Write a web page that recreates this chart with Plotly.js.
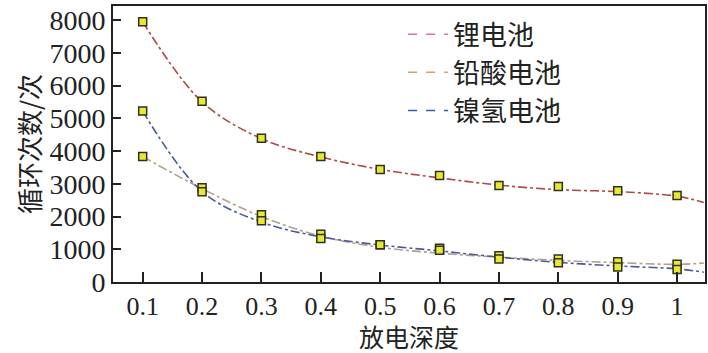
<!DOCTYPE html>
<html><head><meta charset="utf-8">
<script src="https://cdn.plot.ly/plotly-3.0.1.min.js"></script>
<style>body{margin:0;background:#fff}#c{width:708px;height:353px}</style>
</head><body><div id="c"></div>
<script>
// Discharge depth
const depth = [0.1,0.2,0.3,0.4,0.5,0.6,0.7,0.8,0.9,1.0];
// Measured cycle counts (markers)
const liPts   = [7950,5520,4390,3830,3435,3250,2945,2915,2790,2640];
const leadPts = [3830,2880,2055,1460,1135,1030,800,700,620,540];
const nimhPts = [5220,2760,1870,1330,1135,970,700,590,460,380];
// Fitted curves
const fitX    = [0.1,0.2,0.3,0.4,0.5,0.6,0.7,0.8,0.9,1.0,1.045];
const liFit   = [7950,5500,4380,3820,3440,3180,2960,2820,2760,2620,2430];
const leadFit = [3830,2850,2000,1400,1060,880,760,660,590,540,580];
const nimhFit = [5220,2760,1830,1380,1130,950,760,600,490,400,300];
const names = ['锂电池','铅酸电池','镍氢电池'];
const legendColors = ['#e8708a','#d8a068','#3a58a8'];
const curveColors  = ['#b04848','#b0a090','#4a5a98'];
const xTicks = [0.1,0.2,0.3,0.4,0.5,0.6,0.7,0.8,0.9,1];
const xTickText = ['0.1','0.2','0.3','0.4','0.5','0.6','0.7','0.8','0.9','1'];
const xTitle = '放电深度';
const yTitle = '循环次数/次';

const fits = [liFit, leadFit, nimhFit];
const pts = [liPts, leadPts, nimhPts];
const traces = [];
fits.forEach((f,i)=>{
  traces.push({x:fitX, y:f, mode:'lines', line:{shape:'spline', color:curveColors[i], width:1.6, dash:'dashdot'}, showlegend:false, hoverinfo:'skip'});
});
pts.forEach((p,i)=>{
  traces.push({x:depth, y:p, mode:'markers', marker:{symbol:'square', size:8, color:'#e8e830', line:{color:'#303020', width:1.5}}, showlegend:false});
});
names.forEach((n,i)=>{
  traces.push({x:[null], y:[null], mode:'lines', name:n, line:{color:legendColors[i], width:1.5, dash:'dash'}, showlegend:true});
});

const serif = 'Liberation Serif, Times New Roman, serif';
const cjk = 'Noto Sans CJK SC, sans-serif';
const layout = {
  width:708, height:353,
  margin:{l:113, r:3, t:6, b:71},
  paper_bgcolor:'#fff', plot_bgcolor:'#fff',
  font:{family:serif, size:27, color:'#222'},
  xaxis:{range:[0.05,1.047], tickvals:xTicks, ticktext:xTickText, ticks:'inside', ticklen:10, tickwidth:2, tickcolor:'#222',
    showline:true, linecolor:'#222', linewidth:2, mirror:true, showgrid:false, zeroline:false,
    tickfont:{family:serif, size:26, color:'#222'}, automargin:false},
  yaxis:{range:[0,8430], tickvals:[0,1000,2000,3000,4000,5000,6000,7000,8000], ticks:'inside', ticklen:8, tickwidth:2, tickcolor:'#222',
    showline:true, linecolor:'#222', linewidth:2, mirror:true, showgrid:false, zeroline:false,
    tickfont:{family:serif, size:28, color:'#222'}, automargin:false,
    title:{text:yTitle, font:{family:cjk, size:26, color:'#222'}}},
  annotations:[{text:xTitle, xref:'paper', yref:'paper', x:0.5, y:-0.195, xanchor:'center', yanchor:'middle', showarrow:false,
    borderpad:0, font:{family:cjk, size:25, color:'#222'}}],
  legend:{x:0.49, y:0.985, xanchor:'left', yanchor:'top', bgcolor:'rgba(0,0,0,0)', borderwidth:0,
    font:{family:cjk, size:27, color:'#222'}, itemwidth:40, tracegroupgap:0},
  showlegend:true
};
Plotly.newPlot('c', traces, layout, {displayModeBar:false, staticPlot:true});
</script></body></html>
